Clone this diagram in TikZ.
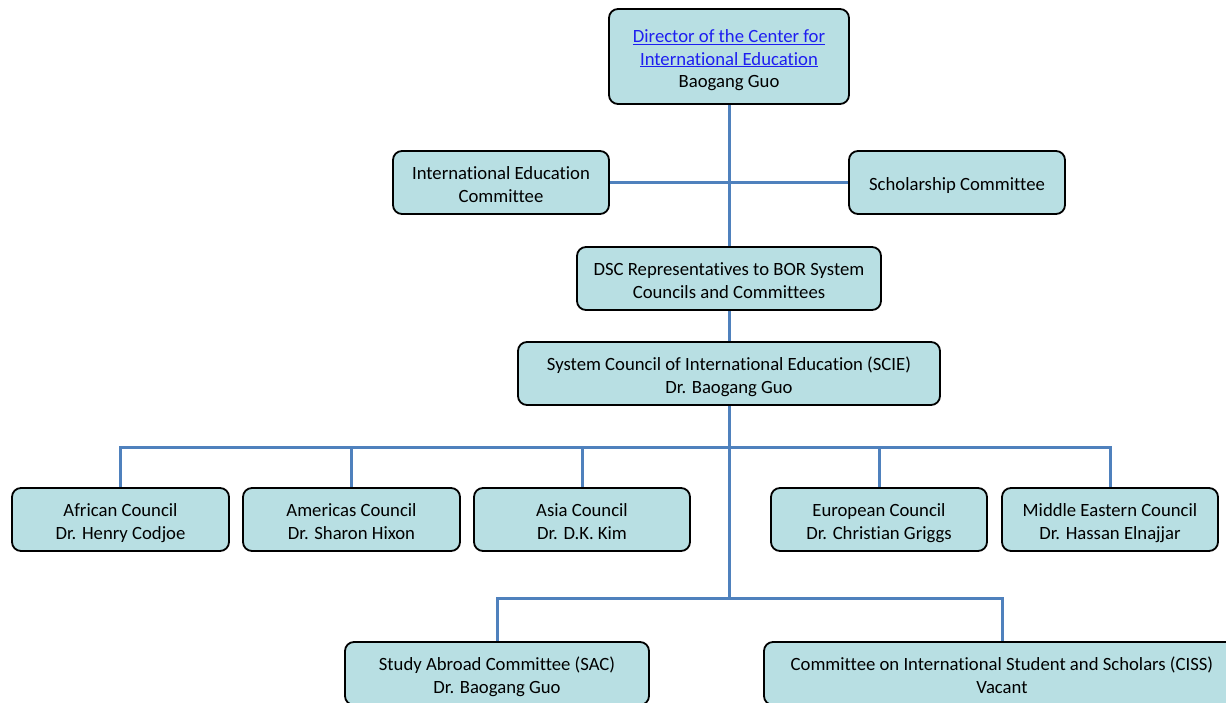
\documentclass[tikz,border=0pt]{standalone}
\usepackage{fontspec}
\setmainfont{Carlito}[Ligatures=NoCommon]
\usetikzlibrary{backgrounds}
\definecolor{boxfill}{RGB}{184,223,227}
\definecolor{linkblue}{RGB}{30,30,240}
\definecolor{wire}{RGB}{79,129,189}
\tikzset{
  orgbox/.style={draw=black, line width=1.8pt, fill=boxfill, rounded corners=9pt,
    inner sep=0pt, align=center, font=\fontsize{18.7}{22.5}\selectfont,
    text depth=4pt},
  oneline/.style={text height=20pt},
  twolines/.style={text height=43pt},
  threelines/.style={text height=66pt},
  wirestyle/.style={draw=wire, line width=3pt}
}
\begin{document}
\begin{tikzpicture}[x=1pt,y=-1pt]
\useasboundingbox (0,0) rectangle (1226,702);
\clip (0,0) rectangle (1226,702);

% top of the chart
\node[orgbox, threelines, minimum width=240pt, minimum height=95pt] (dir) at (729,56.5)
  {\textcolor{linkblue}{\underline{Director of the Center for}}\\
   \textcolor{linkblue}{\underline{International Education}}\\Baogang Guo};
\node[orgbox, twolines, minimum width=216pt, minimum height=63pt] (iec) at (501,182.5)
  {International Education\\Committee};
\node[orgbox, oneline, minimum width=216pt, minimum height=63pt] (sch) at (957,182.5)
  {Scholarship Committee};
\node[orgbox, twolines, minimum width=304pt, minimum height=63pt] (dsc) at (729,278.5)
  {DSC Representatives to BOR System\\Councils and Committees};
\node[orgbox, twolines, minimum width=422pt, minimum height=63pt] (scie) at (729,373.5)
  {System Council of International Education (SCIE)\\Dr. Baogang Guo};

% regional councils
\node[orgbox, twolines, minimum width=217pt, minimum height=63pt] (afr) at (120.5,519.5)
  {African Council\\Dr. Henry Codjoe};
\node[orgbox, twolines, minimum width=217pt, minimum height=63pt] (ame) at (351.5,519.5)
  {Americas Council\\Dr. Sharon Hixon};
\node[orgbox, twolines, minimum width=216pt, minimum height=63pt] (asi) at (582,519.5)
  {Asia Council\\Dr. D.K. Kim};
\node[orgbox, twolines, minimum width=216pt, minimum height=63pt] (eur) at (879,519.5)
  {European Council\\Dr. Christian Griggs};
\node[orgbox, twolines, minimum width=216pt, minimum height=63pt] (mid) at (1110,519.5)
  {Middle Eastern Council\\Dr. Hassan Elnajjar};

% committees
\node[orgbox, twolines, minimum width=304pt, minimum height=63pt] (sac) at (497,673.5)
  {Study Abroad Committee (SAC)\\Dr. Baogang Guo};
\node[orgbox, twolines, minimum width=476pt, minimum height=63pt] (ciss) at (1002,673.5)
  {Committee on International Student and Scholars (CISS)\\Vacant};

\coordinate (bus1) at (729,447);
\coordinate (bus2) at (729,598);

\begin{scope}[on background layer]
  \draw[wirestyle] (dir.south) -- (dsc.north);
  \draw[wirestyle] (iec.east) -- (sch.west);
  \draw[wirestyle] (dsc.south) -- (scie.north);
  \draw[wirestyle] (scie.south) -- (bus2);
  \foreach \c in {afr,ame,asi,eur,mid}
    \draw[wirestyle] (bus1) -| (\c.north);
  \draw[wirestyle] (bus2) -| (sac.north);
  \draw[wirestyle] (bus2) -| (ciss.north);
\end{scope}
\end{tikzpicture}
\end{document}
